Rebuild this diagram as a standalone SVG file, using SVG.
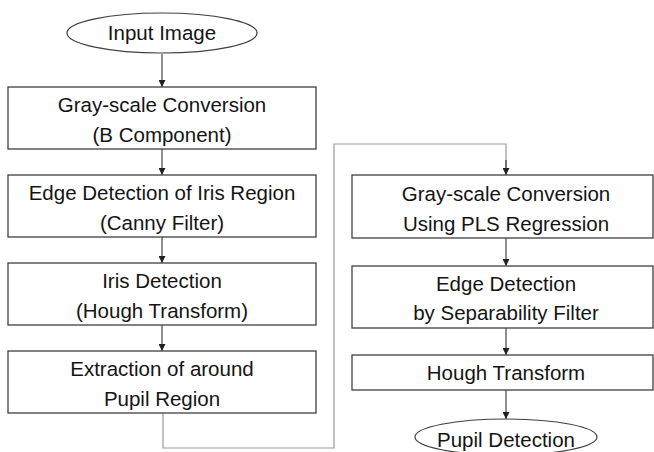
<svg xmlns="http://www.w3.org/2000/svg" width="654" height="452" viewBox="0 0 654 452">
  <style>
    .box { fill: #ffffff; stroke: #404040; stroke-width: 1.3; }
    .term { fill: #ffffff; stroke: #404040; stroke-width: 1.2; }
    .lbl { font-family: "Liberation Sans", Arial, sans-serif; font-size: 20.5px; fill: #141414; text-anchor: middle; }
    .arrow { stroke: #202020; stroke-width: 1; fill: none; marker-end: url(#head); }
    .link { stroke: #9a9a9a; stroke-width: 1.2; fill: none; }
  </style>
  <defs>
    <marker id="head" viewBox="0 0 8 8" refX="8" refY="4" markerWidth="7" markerHeight="7" markerUnits="userSpaceOnUse" orient="auto">
      <path d="M0,0 L8,4 L0,8 Z" fill="#202020"/>
    </marker>
  </defs>
  <rect width="654" height="452" fill="#ffffff"/>

  <g id="connectors">
    <line class="arrow" x1="162" y1="54" x2="162" y2="87"/>
    <line class="arrow" x1="162" y1="149" x2="162" y2="175"/>
    <line class="arrow" x1="162" y1="237" x2="162" y2="263"/>
    <line class="arrow" x1="162" y1="325" x2="162" y2="351"/>
    <polyline class="link" points="163,413 163,448 334,448 334,144 506,144 506,168"/>
    <line class="arrow" x1="506" y1="160" x2="506" y2="175"/>
    <line class="arrow" x1="506" y1="238" x2="506" y2="266"/>
    <line class="arrow" x1="506" y1="328" x2="506" y2="355"/>
    <line class="arrow" x1="506" y1="390" x2="506" y2="419"/>
  </g>

  <g id="input-image">
    <ellipse class="term" cx="162" cy="33" rx="95" ry="20"/>
    <text class="lbl" x="162" y="40">Input Image</text>
  </g>

  <g id="grayscale-b">
    <rect class="box" x="8" y="87" width="308" height="62"/>
    <text class="lbl" x="162" y="112">Gray-scale Conversion</text>
    <text class="lbl" x="162" y="142">(B Component)</text>
  </g>

  <g id="edge-iris">
    <rect class="box" x="8" y="175" width="308" height="62"/>
    <text class="lbl" x="162" y="200">Edge Detection of Iris Region</text>
    <text class="lbl" x="162" y="230">(Canny Filter)</text>
  </g>

  <g id="iris-detection">
    <rect class="box" x="8" y="263" width="308" height="62"/>
    <text class="lbl" x="162" y="288">Iris Detection</text>
    <text class="lbl" x="162" y="318">(Hough Transform)</text>
  </g>

  <g id="extraction">
    <rect class="box" x="8" y="351" width="308" height="62"/>
    <text class="lbl" x="162" y="376">Extraction of around</text>
    <text class="lbl" x="162" y="406">Pupil Region</text>
  </g>

  <g id="grayscale-pls">
    <rect class="box" x="352" y="175" width="301" height="63"/>
    <text class="lbl" x="506" y="201">Gray-scale Conversion</text>
    <text class="lbl" x="506" y="231">Using PLS Regression</text>
  </g>

  <g id="edge-separability">
    <rect class="box" x="352" y="266" width="301" height="62"/>
    <text class="lbl" x="506" y="291">Edge Detection</text>
    <text class="lbl" x="506" y="320">by Separability Filter</text>
  </g>

  <g id="hough">
    <rect class="box" x="352" y="355" width="301" height="35"/>
    <text class="lbl" x="506" y="380">Hough Transform</text>
  </g>

  <g id="pupil-detection">
    <ellipse class="term" cx="506" cy="437" rx="91" ry="18"/>
    <text class="lbl" x="506" y="447">Pupil Detection</text>
  </g>
</svg>
